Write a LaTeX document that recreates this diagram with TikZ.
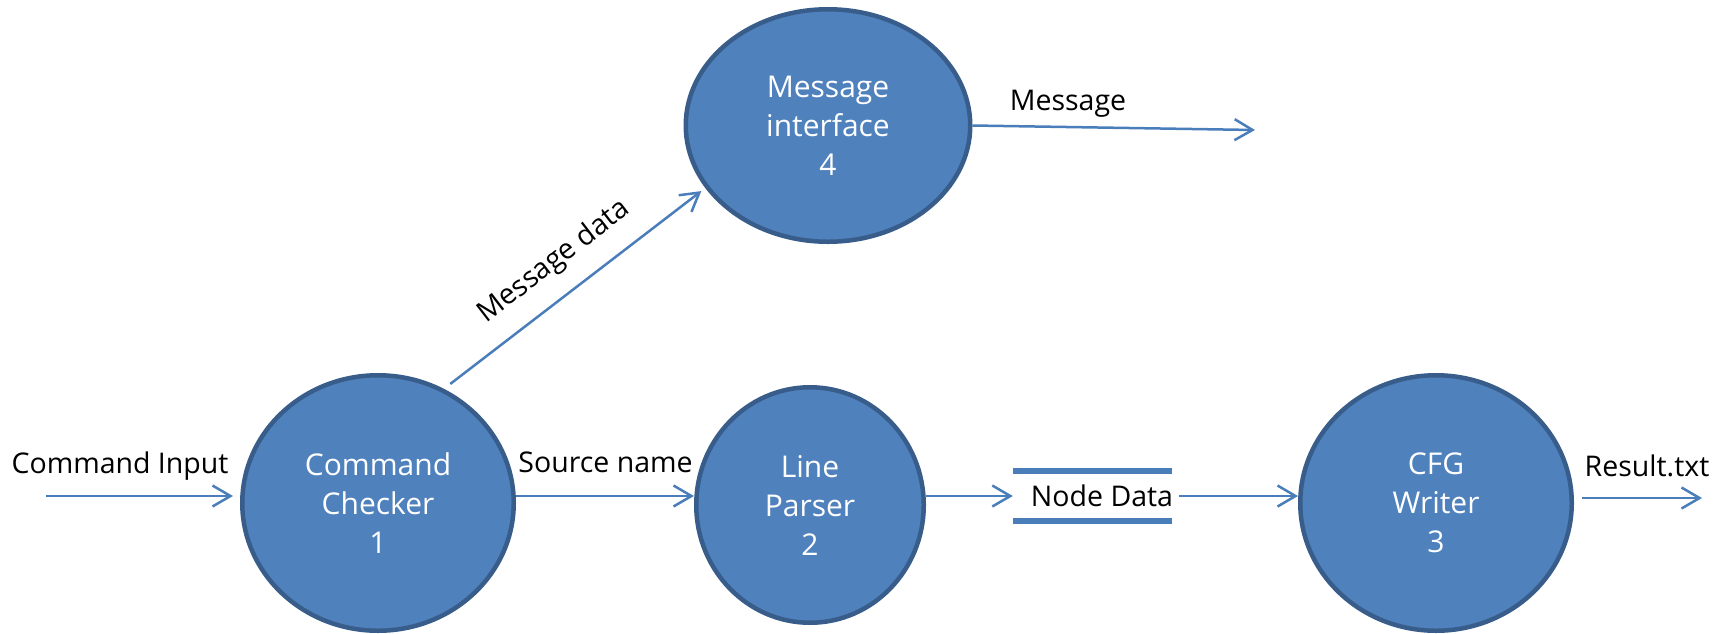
\documentclass[tikz,border=0pt]{standalone}
\usepackage{fontspec}
\setmainfont{Open Sans}
\usetikzlibrary{arrows.meta,shapes.geometric,calc}
\definecolor{procfill}{HTML}{4F81BD}
\definecolor{procline}{HTML}{385D8A}
\definecolor{flowc}{HTML}{4A7EBB}
\begin{document}
\begin{tikzpicture}[x=1pt,y=-1pt,
  every node/.style={font=\fontsize{28.5}{39}\selectfont},
  proc/.style={ellipse, draw=procline, line width=4.5pt, fill=procfill, text=white, align=center, inner sep=0pt, font=\fontsize{30}{39}\selectfont},
  flow/.style={draw=flowc, line width=2.5pt, -{Straight Barb[length=18pt,width=21pt]}},
  lbl/.style={anchor=base, text=black, inner sep=0pt},
  slbl/.style={text=black, inner sep=0pt, sloped},
  bar/.style={draw=flowc, line width=6pt},
  store/.style={minimum width=159pt, minimum height=49pt, inner sep=0pt}]
\useasboundingbox (0,0) rectangle (1723,633);

% processes
\node[proc, minimum width=271.5pt, minimum height=255.5pt] (c1) at (378,503) {Command\\Checker\\1};
\node[proc, minimum width=227.5pt, minimum height=235.5pt] (c2) at (810,505) {Line\\Parser\\2};
\node[proc, minimum width=271.5pt, minimum height=255.5pt] (c3) at (1436,503) {CFG\\Writer\\3};
\node[proc, minimum width=284.5pt, minimum height=232.5pt] (c4) at (828,125.5) {Message\\interface\\4};

% data store
\node[store] (ds) at (1092.5,496) {};
\draw[bar] (ds.north west) -- (ds.north east);
\draw[bar] (ds.south west) -- (ds.south east);
\node[lbl] (dstext) at (1102,506.5) {Node Data};

% free ends
\coordinate (ci) at (46,496);
\coordinate (res) at (1702,498);
\coordinate (msgend) at (1255,130);

% labels
\node[lbl] (lci) at (120,473) {Command Input};
\node[lbl] (lsn) at (605.5,472) {Source name};
\node[lbl] (lres) at (1647,476) {Result.txt};
\node[lbl] (lmsg) at (1068,110.5) {Message};

% connectors
\draw[flow, shorten >=7pt] (ci) -- (ci -| c1.west);
\draw[flow] ([yshift=7pt]c1.east) -- ([yshift=9pt]c2.west);
\draw[flow] ([yshift=9pt]c2.east) -- (ds.west);
\draw[flow, shorten <=7pt] (ds.east) -- ([yshift=7pt]c3.west);
\draw[flow, shorten <=8pt] ([yshift=5pt]c3.east) -- (res);
\draw[flow] (c4.east) -- (msgend);
\draw[flow, shorten <=8pt, shorten >=5pt] (c1.60) -- (c4.207)
  node[slbl, pos=0.5, above=18pt] (lmd) {Message data};
\end{tikzpicture}
\end{document}
